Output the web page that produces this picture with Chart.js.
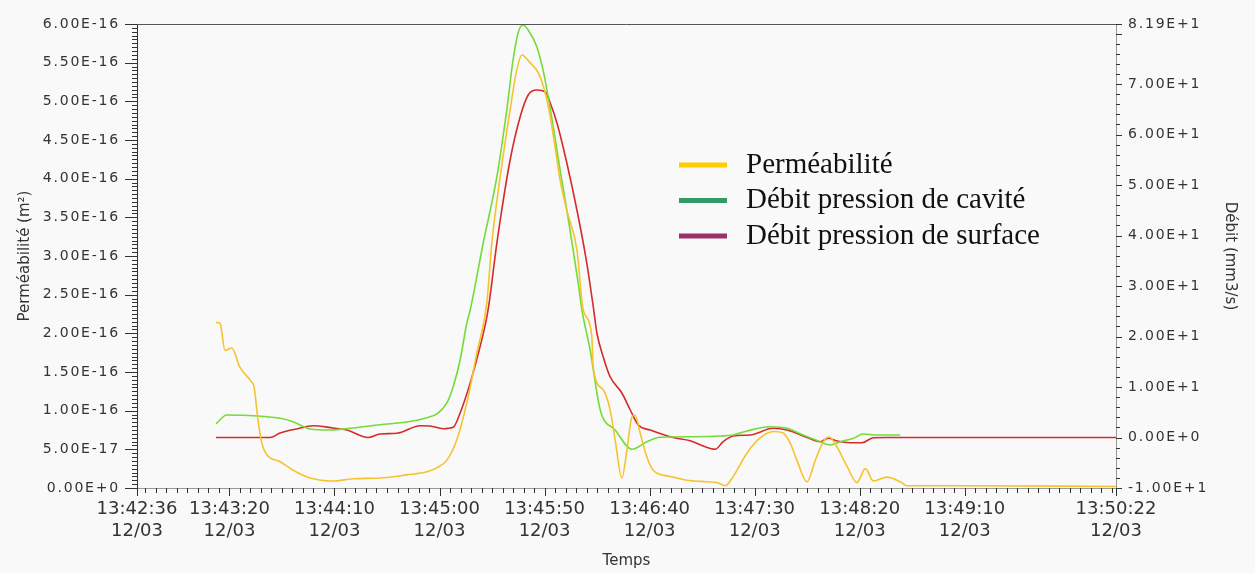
<!DOCTYPE html>
<html>
<head>
<meta charset="utf-8">
<script src="https://cdn.jsdelivr.net/npm/chart.js@4.4.1/dist/chart.umd.min.js"></script>
<style>
  html, body { margin: 0; padding: 0; background: #f9f9f9; }
  #c { display: block; }
</style>
</head>
<body>
<canvas id="c" width="1255" height="573"></canvas>
<script>
// Perméabilité / Débit vs Temps — two y axes, time axis in seconds after 13:42:36

const startClock = 13 * 3600 + 42 * 60 + 36;   // 13:42:36
const dateLabel  = '12/03';
const xMajorTicks = [0, 44, 94, 144, 194, 244, 294, 344, 394, 466];   // s after start
const leftTicks   = [0, 5e-17, 1e-16, 1.5e-16, 2e-16, 2.5e-16, 3e-16, 3.5e-16, 4e-16, 4.5e-16, 5e-16, 5.5e-16, 6e-16];
const rightTicks  = [-10, 0, 10, 20, 30, 40, 50, 60, 70, 81.9];

const legendLabels = ['Perméabilité', 'Débit pression de cavité', 'Débit pression de surface'];
const legendColors = ['#ffcc00', '#339966', '#993366'];

// Perméabilité, values in 1e-16 m²
const permT = [37.6, 39.5, 41.9, 45.1, 49.0, 54.6, 55.7, 57.6, 59.4, 61.8, 68.1, 74.3, 82.4, 93.3, 102.9, 115.7, 128.4, 138.0, 142.7, 147.5,
               152.2, 157.0, 161.8, 166.5, 168.9, 172.9, 177.6, 180.8, 183.2, 187.1, 191.0, 194.3, 196.7, 199.0, 201.4, 204.6, 209.4, 212.4, 216.5, 217.1,
               221.9, 225.2, 227.6, 230.8, 233.2, 235.6, 237.1, 239.5, 242.7, 245.7, 253.8, 261.8, 271.3, 276.0, 280.0, 283.8, 290.3, 296.7, 302.9, 307.6,
               310.9, 314.1, 318.9, 322.9, 326.7, 329.5, 333.2, 338.0, 342.7, 346.7, 350.5, 357.0, 363.3, 366.5, 391.9, 466];
const permV = [2.14, 2.13, 1.78, 1.81, 1.56, 1.37, 1.31, 0.88, 0.58, 0.43, 0.34, 0.23, 0.13, 0.09, 0.12, 0.13, 0.17, 0.21, 0.26, 0.36,
               0.62, 1.10, 1.75, 2.39, 3.17, 4.03, 4.89, 5.41, 5.60, 5.50, 5.37, 5.11, 4.80, 4.41, 3.98, 3.59, 3.08, 2.30, 1.96, 1.57,
               1.27, 1.01, 0.62, 0.13, 0.49, 0.92, 0.94, 0.71, 0.40, 0.23, 0.15, 0.10, 0.08, 0.07, 0.03, 0.15, 0.45, 0.65, 0.73, 0.71,
               0.58, 0.36, 0.08, 0.36, 0.60, 0.66, 0.53, 0.28, 0.07, 0.25, 0.09, 0.14, 0.08, 0.03, 0.03, 0.02];

// Débit pression de cavité, mm3/s
const cavT = [37.6, 42.7, 50.5, 68.1, 74.3, 82.4, 91.9, 102.9, 115.7, 128.4, 138.0, 143.3, 147.5, 150.5, 153.8, 157.0, 158.6, 164.8, 171.3, 176.0,
              179.0, 181.4, 183.7, 186.2, 190.3, 193.3, 195.7, 198.1, 201.4, 204.6, 207.6, 210.0, 211.8, 215.7, 220.5, 227.6, 235.6, 242.7, 249.0, 264.8,
              277.6, 283.8, 290.3, 301.4, 309.4, 317.1, 325.2, 330.0, 334.8, 341.0, 345.7, 352.2, 363.3];
const cavV = [2.68, 4.46, 4.40, 3.80, 3.13, 1.69, 1.49, 1.88, 2.54, 3.07, 3.92, 4.85, 6.84, 10.06, 15.35, 22.68, 25.25, 38.52, 51.66, 64.87,
              74.77, 80.12, 81.70, 80.71, 77.40, 72.75, 67.50, 61.56, 52.98, 45.06, 37.14, 30.60, 25.25, 17.33, 5.45, 1.49, -2.33, -0.83, 0.04, 0.16,
              0.30, 0.50, 1.29, 2.14, 1.82, 0.50, -0.83, -1.48, -0.83, -0.16, 0.70, 0.50, 0.50];

// Débit pression de surface, mm3/s
const surfT = [37.6, 63.3, 68.1, 76.0, 83.8, 93.3, 99.9, 110.0, 115.7, 123.7, 134.8, 139.5, 145.7, 150.5, 153.8, 158.6, 163.3, 167.1, 171.3, 177.6,
               182.4, 186.2, 190.3, 194.3, 196.7, 199.9, 204.6, 209.4, 214.1, 217.4, 218.9, 221.9, 225.2, 230.8, 234.8, 238.6, 244.3, 255.2, 263.3, 269.5,
               275.2, 279.0, 283.8, 291.9, 302.9, 309.4, 318.9, 325.2, 329.0, 333.2, 339.5, 345.1, 350.5, 357.0, 466];
const surfV = [0, 0, 0.89, 1.69, 2.34, 1.88, 1.49, 0, 0.70, 0.83, 2.34, 2.28, 1.74, 2.02, 4.85, 10.80, 17.99, 25.25, 38.52, 54.96,
               63.54, 67.84, 68.83, 68.49, 66.25, 62.29, 54.37, 45.06, 34.56, 25.25, 20.70, 16.00, 12.04, 8.82, 5.45, 2.48, 1.49, 0, -0.63, -1.68,
               -2.33, -0.83, 0.30, 0.50, 1.82, 1.49, 0, -0.83, -0.16, -0.69, -1.03, -1.03, -0.04, 0, 0];

const textColor = '#333';
const tickColor = '#333';
const family    = "'DejaVu Sans', sans-serif";

const pad2 = n => String(n).padStart(2, '0');
function clockAt(t) {
    const s = Math.round(startClock + t);
    return pad2(Math.floor(s / 3600)) + ':' + pad2(Math.floor(s / 60) % 60) + ':' + pad2(s % 60);
}
const fmtE = v => v.toExponential(2).toUpperCase();
const pts = (ts, vs, k) => ts.map((t, i) => ({ x: t, y: vs[i] * k }));

// minor + major tick marks, y tick labels (with letter spacing), top frame line
const axisDecor = {
    id: 'axisDecor',
    afterDraw(chart) {
        const { ctx, chartArea: a } = chart;
        const sx = chart.scales.x, sl = chart.scales.yPerm, sr = chart.scales.yDebit;
        ctx.save();
        ctx.lineWidth = 1;
        ctx.strokeStyle = tickColor;
        ctx.beginPath();
        for (let i = 0; i <= 120; i++) {
            const y = Math.round(sl.getPixelForValue(i * 5e-18)) + 0.5;
            const len = i % 10 === 0 ? 12 : 5;
            ctx.moveTo(a.left - len, y); ctx.lineTo(a.left, y);
        }
        for (let i = -5; i <= 40; i++) {
            const y = Math.round(sr.getPixelForValue(i * 2)) + 0.5;
            const len = i % 5 === 0 ? 6 : 4;
            ctx.moveTo(a.right, y); ctx.lineTo(a.right + len, y);
        }
        const yTop = Math.round(sr.getPixelForValue(rightTicks[rightTicks.length - 1])) + 0.5;
        ctx.moveTo(a.right, yTop); ctx.lineTo(a.right + 6, yTop);
        for (let t = (5 - startClock % 5) % 5; t <= 466; t += 5) {
            const x = Math.round(sx.getPixelForValue(t)) + 0.5;
            ctx.moveTo(x, a.bottom); ctx.lineTo(x, a.bottom + 5);
        }
        xMajorTicks.forEach(t => {
            const x = Math.round(sx.getPixelForValue(t)) + 0.5;
            ctx.moveTo(x, a.bottom); ctx.lineTo(x, a.bottom + 8);
        });
        ctx.stroke();

        ctx.strokeStyle = '#555';
        ctx.beginPath();
        ctx.moveTo(a.left, Math.round(a.top) + 0.5); ctx.lineTo(a.right, Math.round(a.top) + 0.5);
        ctx.stroke();

        ctx.fillStyle = textColor;
        ctx.font = '14px ' + family;
        ctx.letterSpacing = '1.8px';
        ctx.textBaseline = 'middle';
        ctx.textAlign = 'right';
        leftTicks.forEach(v => ctx.fillText(fmtE(v), a.left - 17, sl.getPixelForValue(v)));
        ctx.textAlign = 'left';
        rightTicks.forEach(v => ctx.fillText(fmtE(v), a.right + 12, sr.getPixelForValue(v)));
        ctx.restore();
    }
};

const legendBox = {
    id: 'legendBox',
    afterDraw(chart) {
        const ctx = chart.ctx;
        ctx.save();
        ctx.font = "29px 'Liberation Serif', serif";
        ctx.textBaseline = 'middle';
        ctx.textAlign = 'left';
        ctx.fillStyle = '#111';
        ctx.lineWidth = 5;
        legendLabels.forEach((txt, i) => {
            const y = 165 + i * 35.5;
            ctx.strokeStyle = legendColors[i];
            ctx.beginPath(); ctx.moveTo(679, y); ctx.lineTo(727, y); ctx.stroke();
            ctx.fillText(txt, 746, y);
        });
        ctx.restore();
    }
};

const lineStyle = { borderWidth: 1.6, pointRadius: 0, fill: false, cubicInterpolationMode: 'monotone' };

new Chart(document.getElementById('c'), {
    type: 'line',
    data: {
        datasets: [
            { label: legendLabels[0], data: pts(permT, permV, 1e-16), yAxisID: 'yPerm', borderColor: '#f5c330', ...lineStyle },
            { label: legendLabels[1], data: pts(cavT, cavV, 1), yAxisID: 'yDebit', borderColor: '#72dc38', ...lineStyle },
            { label: legendLabels[2], data: pts(surfT, surfV, 1), yAxisID: 'yDebit', borderColor: '#d42b2b', ...lineStyle }
        ]
    },
    options: {
        responsive: false,
        animation: false,
        devicePixelRatio: 1,
        layout: { padding: { top: 24, left: 0, right: 0, bottom: 0 } },
        plugins: { legend: { display: false }, tooltip: { enabled: false } },
        scales: {
            x: {
                type: 'linear', min: 0, max: 466,
                afterBuildTicks: s => { s.ticks = xMajorTicks.map(v => ({ value: v })); },
                afterFit: s => { s.height = 85; },
                grid: { display: false, drawTicks: false },
                border: { color: '#999' },
                ticks: { autoSkip: false, maxRotation: 0, padding: 11, color: textColor,
                         font: { family, size: 18 }, callback: v => [clockAt(v), dateLabel] },
                title: { display: true, text: 'Temps', color: textColor, font: { family, size: 15 }, padding: { top: 0, bottom: 3 } }
            },
            yPerm: {
                type: 'linear', position: 'left', min: 0, max: 6e-16,
                afterFit: s => { s.width = 137; },
                grid: { display: false, drawTicks: false },
                border: { color: '#333' },
                ticks: { display: false },
                title: { display: true, text: 'Perméabilité (m²)', color: textColor, font: { family, size: 15 }, padding: { top: 16 } }
            },
            yDebit: {
                type: 'linear', position: 'right', min: -10, max: 81.9,
                afterFit: s => { s.width = 139; },
                grid: { display: false, drawTicks: false },
                border: { color: '#999' },
                ticks: { display: false },
                title: { display: true, text: 'Débit (mm3/s)', color: textColor, font: { family, size: 15 }, padding: { top: 16 } }
            }
        }
    },
    plugins: [axisDecor, legendBox]
});
</script>
</body>
</html>
